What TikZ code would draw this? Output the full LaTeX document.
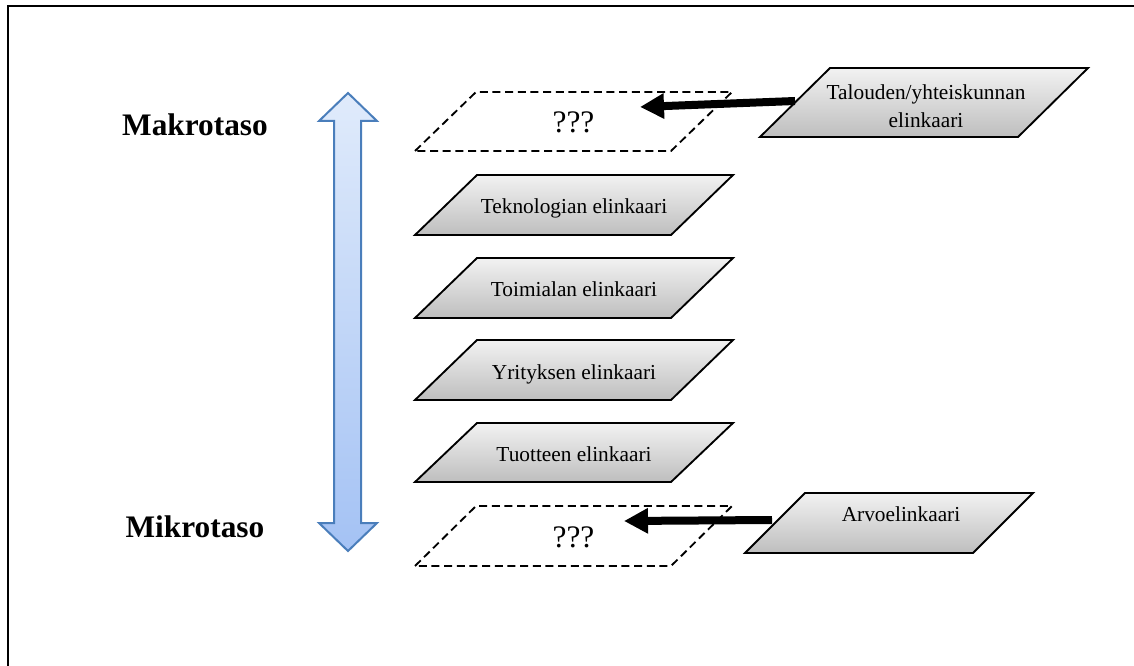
\documentclass[tikz,border=0pt]{standalone}
\usepackage{fontspec}
\setmainfont{Liberation Serif}
\usetikzlibrary{arrows.meta}
\definecolor{boxtop}{HTML}{F2F2F2}
\definecolor{boxbot}{HTML}{BEBEBE}
\definecolor{arrtop}{HTML}{E0EBFB}
\definecolor{arrbot}{HTML}{A4C2F4}
\definecolor{arredge}{HTML}{4A7EBB}

% #1 style, #2 top y, #3 bottom y, #4 bottom-left x, #5 top-left x, #6 width, #7 name
\newcommand{\slantbox}[7]{%
  \path[#1] (#4,#3) -- (#5,#2) -- ({#5+#6},#2) -- ({#4+#6},#3) -- cycle;
  \coordinate (#7) at ({(#4+#5+#6)/2},{(#2+#3)/2});}

\begin{document}
\begin{tikzpicture}[x=0.75pt,y=-0.75pt,
  lifebox/.style={draw=black,line width=1.4pt,top color=boxtop,bottom color=boxbot},
  openbox/.style={draw=black,line width=1.4pt,dash pattern=on 6pt off 3.5pt},
  boxtext/.style={font=\fontsize{16}{21}\selectfont,align=center,inner sep=0pt,anchor=base},
  qtext/.style={font=\fontsize{23.5}{28}\selectfont,inner sep=0pt,anchor=base},
  leveltext/.style={font=\fontsize{23.5}{28}\selectfont\bfseries,inner sep=0pt,anchor=base},
  feed/.style={line width=6pt,-{Triangle[length=18pt,width=18pt]}},
  scale arrow/.style={draw=arredge,line width=1.5pt,top color=arrtop,bottom color=arrbot}]
\clip (0,0) rectangle (1134,666);

% outer frame (open to the right and bottom)
\draw[line width=1.6pt] (8,700) -- (8,6) -- (1200,6);

% macro / micro scale arrow
\path[scale arrow] (348,93) -- (377,121) -- (361,121) -- (361,523) -- (377,523)
  -- (348,551) -- (319,523) -- (334,523) -- (334,121) -- (319,121) -- cycle;
\node[leveltext] (makro) at (195,136) {Makrotaso};
\node[leveltext] (mikro) at (195,537) {Mikrotaso};

% levels of life cycles
\slantbox{openbox}{92}{151}{415}{476}{256}{q1c}
\slantbox{lifebox}{175}{235}{415}{477}{256}{tekc}
\slantbox{lifebox}{258}{318}{415}{477}{256}{toic}
\slantbox{lifebox}{340}{400}{415}{477}{256}{yric}
\slantbox{lifebox}{423}{482}{415}{477}{256}{tuoc}
\slantbox{openbox}{506}{566}{415}{476}{256}{q2c}

\node[qtext] (q1) at ([yshift=-8.6pt]q1c) {???};
\node[boxtext] (tek) at ([yshift=-6.6pt]tekc) {Teknologian elinkaari};
\node[boxtext] (toi) at ([yshift=-6.3pt]toic) {Toimialan elinkaari};
\node[boxtext] (yri) at ([yshift=-7pt]yric) {Yrityksen elinkaari};
\node[boxtext] (tuo) at ([yshift=-6.6pt]tuoc) {Tuotteen elinkaari};
\node[qtext] (q2) at ([yshift=-8.3pt]q2c) {???};

% outside drivers
\slantbox{lifebox}{68}{137}{760}{830}{258}{talc}
\slantbox{lifebox}{493}{553}{745}{805}{228}{arvc}
\node[boxtext] (tal) at ([xshift=1.5pt,yshift=-18.4pt]talc) {Talouden/yhteiskunnan\\elinkaari};
\node[boxtext] (arv) at ([xshift=9pt,yshift=0.8pt]arvc) {Arvoelinkaari};

% connectors into the open levels
\coordinate (tal-in) at (795,101);
\coordinate (q1-in) at (640,107);
\coordinate (arv-in) at (772,520);
\coordinate (q2-in) at (624,521);
\draw[feed] (tal-in) -- (q1-in);
\draw[feed] (arv-in) -- (q2-in);
\end{tikzpicture}
\end{document}
